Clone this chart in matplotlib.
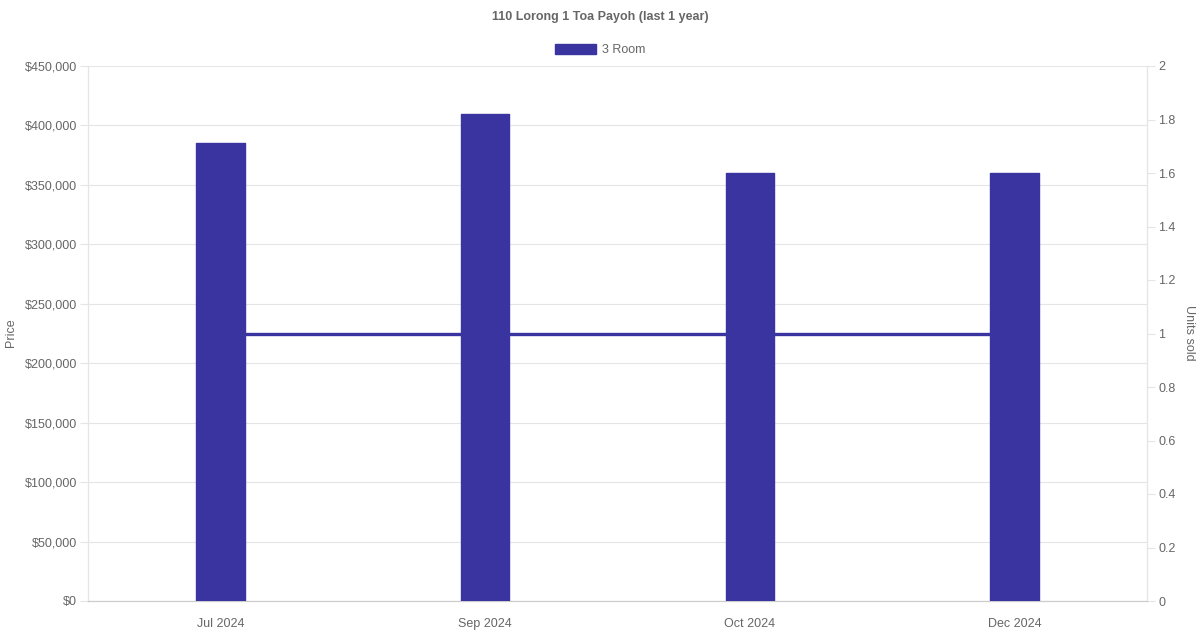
import matplotlib.pyplot as plt
from matplotlib.patches import Patch
from matplotlib.ticker import FuncFormatter

# data
months = ["Jul 2024", "Sep 2024", "Oct 2024", "Dec 2024"]
prices = [385000, 410000, 360000, 360000]
units_sold = [1, 1, 1, 1]

bar_color = "#3934a0"
text_color = "#666666"
grid_color = "#e5e5e5"

plt.rcParams["font.family"] = ["Liberation Sans", "DejaVu Sans"]

fig = plt.figure(figsize=(12, 6.3), dpi=100)
ax = fig.add_axes([88 / 1200, 29 / 630, (1147 - 88) / 1200, (601 - 66) / 630])
ax2 = ax.twinx()

# bars sit on top of the units line
ax.set_zorder(ax2.get_zorder() + 1)
ax.patch.set_visible(False)

x = range(len(months))
ax.bar(x, prices, width=0.183, color=bar_color, edgecolor=bar_color,
       linewidth=1, joinstyle="round", zorder=3)
ax2.plot(x, units_sold, color=bar_color, linewidth=2.4, zorder=2)

ax.set_xlim(-0.5, len(months) - 0.5)
ax.set_ylim(0, 450000)
ax.set_yticks(range(0, 450001, 50000))
ax.yaxis.set_major_formatter(FuncFormatter(lambda v, p: f"${v:,.0f}"))
ax.set_xticks(list(x))
ax.set_xticklabels(months)

ax2.set_ylim(0, 2)
ax2.set_yticks([0, 0.2, 0.4, 0.6, 0.8, 1, 1.2, 1.4, 1.6, 1.8, 2])
ax2.yaxis.set_major_formatter(FuncFormatter(lambda v, p: f"{v:g}"))

ax.grid(axis="y", color=grid_color, linewidth=0.8)
ax.set_axisbelow(True)

for a in (ax, ax2):
    for side in a.spines:
        a.spines[side].set_color(grid_color)
    a.spines["top"].set_visible(False)
    a.spines["bottom"].set_color("#cccccc")
    a.tick_params(colors=text_color, labelsize=9, length=6, width=0.8, pad=2)
    a.tick_params(axis="both", color=grid_color)
ax.tick_params(axis="x", length=0, pad=12)

# axis titles placed by hand so nothing gets clipped at the edge
fig.text(11 / 1200, 1 - 333 / 630, "Price", rotation=90, ha="center", va="center",
         color=text_color, fontsize=9)
fig.text(1189 / 1200, 1 - 333 / 630, "Units sold", rotation=270, ha="center",
         va="center", color=text_color, fontsize=9)

fig.text(0.5, 1 - 17 / 630, "110 Lorong 1 Toa Payoh (last 1 year)", ha="center",
         va="center", fontsize=9, fontweight="bold", color=text_color)

handle = Patch(facecolor=bar_color, edgecolor=bar_color)
fig.legend([handle], ["3 Room"], loc="center", bbox_to_anchor=(0.5, 1 - 50 / 630),
           frameon=False, fontsize=9, labelcolor=text_color,
           handlelength=3.3, handleheight=0.9, handletextpad=0.5)

fig.savefig("out.png", dpi=100)
